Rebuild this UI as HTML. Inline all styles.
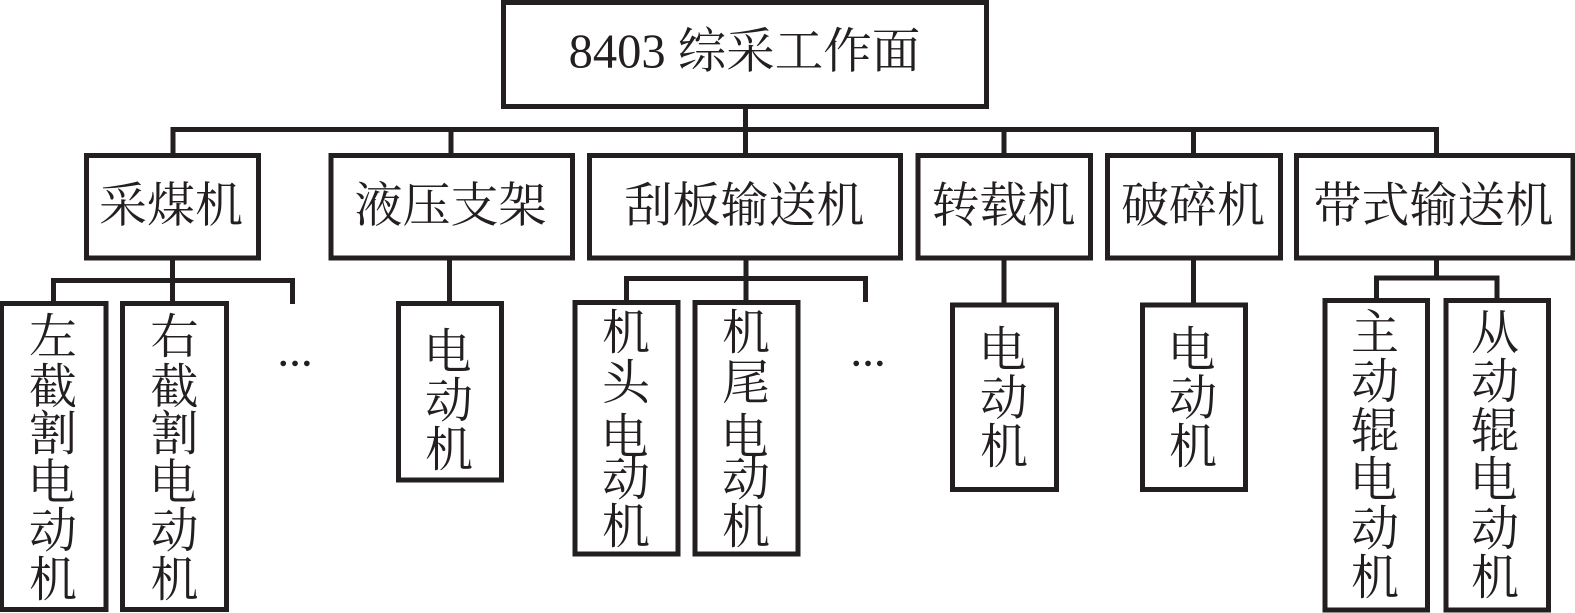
<!DOCTYPE html>
<html><head><meta charset="utf-8">
<style>
html,body{margin:0;padding:0;background:#fff;overflow:hidden;}
svg{display:block;}
text{font-family:"Liberation Serif","Noto Serif CJK SC",serif;fill:#231f20;}
</style></head>
<body>
<svg width="1575" height="613" viewBox="0 0 1575 613" xmlns="http://www.w3.org/2000/svg">
<g fill="none" stroke="#231f20" stroke-width="5">
<rect x="503.5" y="2.5" width="483" height="104"/>
<path d="M745.5 106V155M173 155V129.5H1436.5V155M451 129.5V155M1004 129.5V155M1193.5 129.5V155"/>
<rect x="86.5" y="155.5" width="172" height="102.5"/>
<rect x="331" y="155.5" width="241.5" height="102.5"/>
<rect x="589.5" y="155.5" width="311" height="102.5"/>
<rect x="918" y="155.5" width="172.5" height="102.5"/>
<rect x="1107.5" y="155.5" width="173" height="102.5"/>
<rect x="1296.5" y="155.5" width="276.5" height="102.5"/>
<path d="M172.5 258V303M53.5 303V280.5H292.5V304"/>
<path d="M449.5 258V303"/>
<path d="M746 258V302M626.5 302V278.5H865.5V302"/>
<path d="M1004 258V305"/>
<path d="M1193.5 258V305"/>
<path d="M1436.5 258V278M1376.5 300V278H1497V300"/>
<rect x="1.5" y="303.5" width="104.5" height="306"/>
<rect x="122.5" y="303.5" width="104" height="306"/>
<rect x="398.5" y="303.5" width="103" height="176.5"/>
<rect x="575" y="302.5" width="103" height="251.5"/>
<rect x="695" y="302.5" width="103" height="251.5"/>
<rect x="952.5" y="305" width="104" height="184.5"/>
<rect x="1142.5" y="305" width="103" height="184.5"/>
<rect x="1325" y="300.5" width="102.5" height="309.5"/>
<rect x="1446" y="300.5" width="102.5" height="309.5"/>
</g>
<g font-size="48" text-anchor="middle">
<text x="744.5" y="67.5" font-size="48.5">8403 综采工作面</text>
<text x="171" y="221.5">采煤机</text>
<text x="450.5" y="221.5">液压支架</text>
<text x="744.5" y="221.5">刮板输送机</text>
<text x="1003.5" y="221.5">转载机</text>
<text x="1193" y="221.5">破碎机</text>
<text x="1433.5" y="221.5">带式输送机</text>
<text x="53" y="353">左</text><text x="53" y="403">截</text><text x="53" y="450">割</text><text x="51.5" y="498.5">电</text><text x="53" y="547">动</text><text x="53" y="596">机</text>
<text x="174.5" y="353">右</text><text x="174.5" y="403">截</text><text x="174.5" y="450">割</text><text x="173" y="498.5">电</text><text x="174.5" y="547">动</text><text x="174.5" y="596">机</text>
<text x="447.5" y="368">电</text><text x="449" y="417">动</text><text x="449" y="466">机</text>
<text x="624.5" y="453">电</text><text x="626" y="349">机</text><text x="626" y="399">头</text><text x="626" y="495">动</text><text x="626" y="543">机</text>
<text x="744.5" y="453">电</text><text x="746" y="349">机</text><text x="746" y="399">尾</text><text x="746" y="495">动</text><text x="746" y="543">机</text>
<text x="1002.5" y="366">电</text><text x="1004" y="414.5">动</text><text x="1004" y="463">机</text>
<text x="1191.5" y="366">电</text><text x="1193" y="414.5">动</text><text x="1193" y="463">机</text>
<text x="1375" y="349">主</text><text x="1375" y="398">动</text><text x="1375" y="447">辊</text><text x="1373.5" y="496">电</text><text x="1375" y="545">动</text><text x="1375" y="594">机</text>
<text x="1495" y="349">从</text><text x="1495" y="398">动</text><text x="1495" y="447">辊</text><text x="1493.5" y="496">电</text><text x="1495" y="545">动</text><text x="1495" y="594">机</text>
</g>
<g font-size="35" font-weight="bold" text-anchor="middle">
<text x="295" y="366">…</text>
<text x="868" y="366">…</text>
</g>
</svg>
</body></html>
